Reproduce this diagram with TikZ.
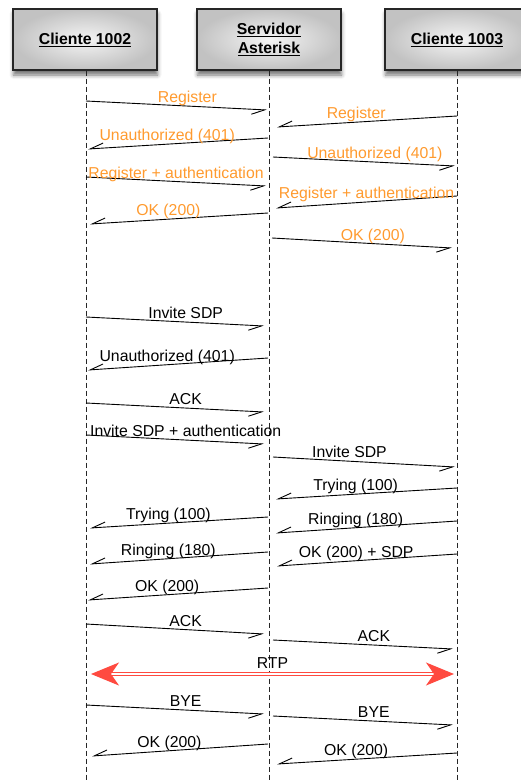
\documentclass[tikz,border=0pt]{standalone}
\usepackage{fontspec}
\setmainfont{Liberation Sans}
\usepackage{xcolor}
\definecolor{regorange}{HTML}{FF9A2E}
\definecolor{rtpred}{HTML}{FF4A40}
\definecolor{boxedge}{HTML}{C2C2C2}
\usetikzlibrary{arrows.meta,shadows.blur}

\begin{document}
\begin{tikzpicture}[
            x=1pt, y=-1pt,
            font=\fontsize{15.8}{18}\selectfont,
            % --- node styles ---
            actor/.style={
                draw=black!85, line width=1.3pt,
                minimum width=144pt, minimum height=61pt,
                align=center, inner sep=2pt,
                inner color=white!96!black, outer color=boxedge,
                font=\fontsize{15.8}{19}\selectfont\bfseries,
                blur shadow={shadow xshift=0.5pt, shadow yshift=-5pt,
                             shadow blur radius=4pt, shadow opacity=55}
            },
            lbl/.style={
                pos=0.56, above=-1.5pt, inner sep=1pt,
                text height=11.5pt, text depth=3.5pt
            },
            reglbl/.style={lbl, text=regorange},
            % --- edge styles ---
            lifeline/.style={dash pattern=on 5pt off 3pt, line width=0.8pt,
                draw=black!85},
            msg/.style={-{Straight Barb[right, length=13pt, width=10pt]},
                line width=0.9pt},
            rtp/.style={
                {Stealth[length=28pt, width=23pt, inset=8pt]}-{Stealth[length=28pt, width=23pt, inset=8pt]},
                draw=rtpred, line width=1.2pt,
                double=white, double distance=1.6pt
            }
        ]

        \useasboundingbox (0,0) rectangle (521,780);

        % ============================================================
        %  Three participants at the top, lifelines down to y=780.
        %  Messages: registration (orange), then call set-up,
        %  media (RTP) and tear-down.
        % ============================================================

        % --- Participants ---
        \node[actor] (cli1) at (85,39.5) {\underline{Cliente 1002}};
        \node[actor] (srv)  at (269,39.5) {\underline{Servidor}\\\underline{Asterisk}};
        \node[actor] (cli2) at (457,39.5) {\underline{Cliente 1003}};

        \coordinate (bottom) at (0,780);
        \draw[lifeline] ([xshift=1pt]cli1.south) -- ([xshift=1pt]cli1.south |- bottom);
        \draw[lifeline] (srv.south)  -- (srv.south |- bottom);
        \draw[lifeline] (cli2.south) -- (cli2.south |- bottom);

        % ===== Registration =====
        \coordinate (reg1s) at (86,101);  \coordinate (reg1e) at (267,110);
        \draw[msg] (reg1s) -- node[reglbl] (treg1) {Register} (reg1e);

        \coordinate (reg2s) at (457,116); \coordinate (reg2e) at (277,127);
        \draw[msg] (reg2s) -- node[reglbl] (treg2) {Register} (reg2e);

        \coordinate (una1s) at (268,138); \coordinate (una1e) at (88,149);
        \draw[msg] (una1s) -- node[reglbl] (tuna1) {Unauthorized (401)} (una1e);

        \coordinate (una2s) at (273,157); \coordinate (una2e) at (455,166);
        \draw[msg] (una2s) -- node[reglbl] (tuna2) {Unauthorized (401)} (una2e);

        \coordinate (auth1s) at (86,177);  \coordinate (auth1e) at (266,186);
        \draw[msg] (auth1s) -- node[reglbl, pos=0.5] (tauth1) {Register + authentication} (auth1e);

        \coordinate (auth2s) at (457,196); \coordinate (auth2e) at (276,208);
        \draw[msg] (auth2s) -- node[reglbl, pos=0.5] (tauth2) {Register + authentication} (auth2e);

        \coordinate (ok1s) at (268,213); \coordinate (ok1e) at (90,224);
        \draw[msg] (ok1s) -- node[reglbl] (tok1) {OK (200)} (ok1e);

        \coordinate (ok2s) at (272,238); \coordinate (ok2e) at (452,248);
        \draw[msg] (ok2s) -- node[reglbl] (tok2) {OK (200)} (ok2e);

        % ===== Call set-up =====
        \coordinate (inv1s) at (86,317); \coordinate (inv1e) at (264,326);
        \draw[msg] (inv1s) -- node[lbl] (tinv1) {Invite SDP} (inv1e);

        \coordinate (una3s) at (268,358); \coordinate (una3e) at (88,370);
        \draw[msg] (una3s) -- node[lbl] (tuna3) {Unauthorized (401)} (una3e);

        \coordinate (ack1s) at (86,403); \coordinate (ack1e) at (264,412);
        \draw[msg] (ack1s) -- node[lbl] (tack1) {ACK} (ack1e);

        \coordinate (inv2s) at (86,435); \coordinate (inv2e) at (264,444);
        \draw[msg] (inv2s) -- node[lbl] (tinv2) {Invite SDP + authentication} (inv2e);

        \coordinate (inv3s) at (273,457); \coordinate (inv3e) at (455,467);
        \draw[msg] (inv3s) -- node[lbl, pos=0.42] (tinv3) {Invite SDP} (inv3e);

        \coordinate (try1s) at (457,488); \coordinate (try1e) at (276,499);
        \draw[msg] (try1s) -- node[lbl] (ttry1) {Trying (100)} (try1e);

        \coordinate (try2s) at (268,517); \coordinate (try2e) at (90,528);
        \draw[msg] (try2s) -- node[lbl] (ttry2) {Trying (100)} (try2e);

        \coordinate (ring1s) at (457,521); \coordinate (ring1e) at (276,533);
        \draw[msg] (ring1s) -- node[lbl] (tring1) {Ringing (180)} (ring1e);

        \coordinate (ring2s) at (268,552); \coordinate (ring2e) at (90,564);
        \draw[msg] (ring2s) -- node[lbl] (tring2) {Ringing (180)} (ring2e);

        \coordinate (sdps) at (457,554); \coordinate (sdpe) at (277,566);
        \draw[msg] (sdps) -- node[lbl] (tsdp) {OK (200) + SDP} (sdpe);

        \coordinate (ok3s) at (268,588); \coordinate (ok3e) at (88,600);
        \draw[msg] (ok3s) -- node[lbl] (tok3) {OK (200)} (ok3e);

        \coordinate (ack2s) at (86,624); \coordinate (ack2e) at (264,634);
        \draw[msg] (ack2s) -- node[lbl] (tack2) {ACK} (ack2e);

        \coordinate (ack3s) at (273,640); \coordinate (ack3e) at (453,649);
        \draw[msg] (ack3s) -- node[lbl] (tack3) {ACK} (ack3e);

        % ===== Media =====
        \coordinate (rtpl) at (91,674); \coordinate (rtpr) at (454,674);
        \draw[rtp] (rtpl) -- node[lbl, pos=0.5, above=1.5pt] (trtp) {RTP} (rtpr);

        % ===== Tear-down =====
        \coordinate (bye1s) at (86,705); \coordinate (bye1e) at (264,714);
        \draw[msg] (bye1s) -- node[lbl] (tbye1) {BYE} (bye1e);

        \coordinate (bye2s) at (273,716); \coordinate (bye2e) at (453,725);
        \draw[msg] (bye2s) -- node[lbl] (tbye2) {BYE} (bye2e);

        \coordinate (ok4s) at (268,744); \coordinate (ok4e) at (92,756);
        \draw[msg] (ok4s) -- node[lbl] (tok4) {OK (200)} (ok4e);

        \coordinate (ok5s) at (457,753); \coordinate (ok5e) at (277,764);
        \draw[msg] (ok5s) -- node[lbl] (tok5) {OK (200)} (ok5e);

        \end{tikzpicture}
\end{document}
